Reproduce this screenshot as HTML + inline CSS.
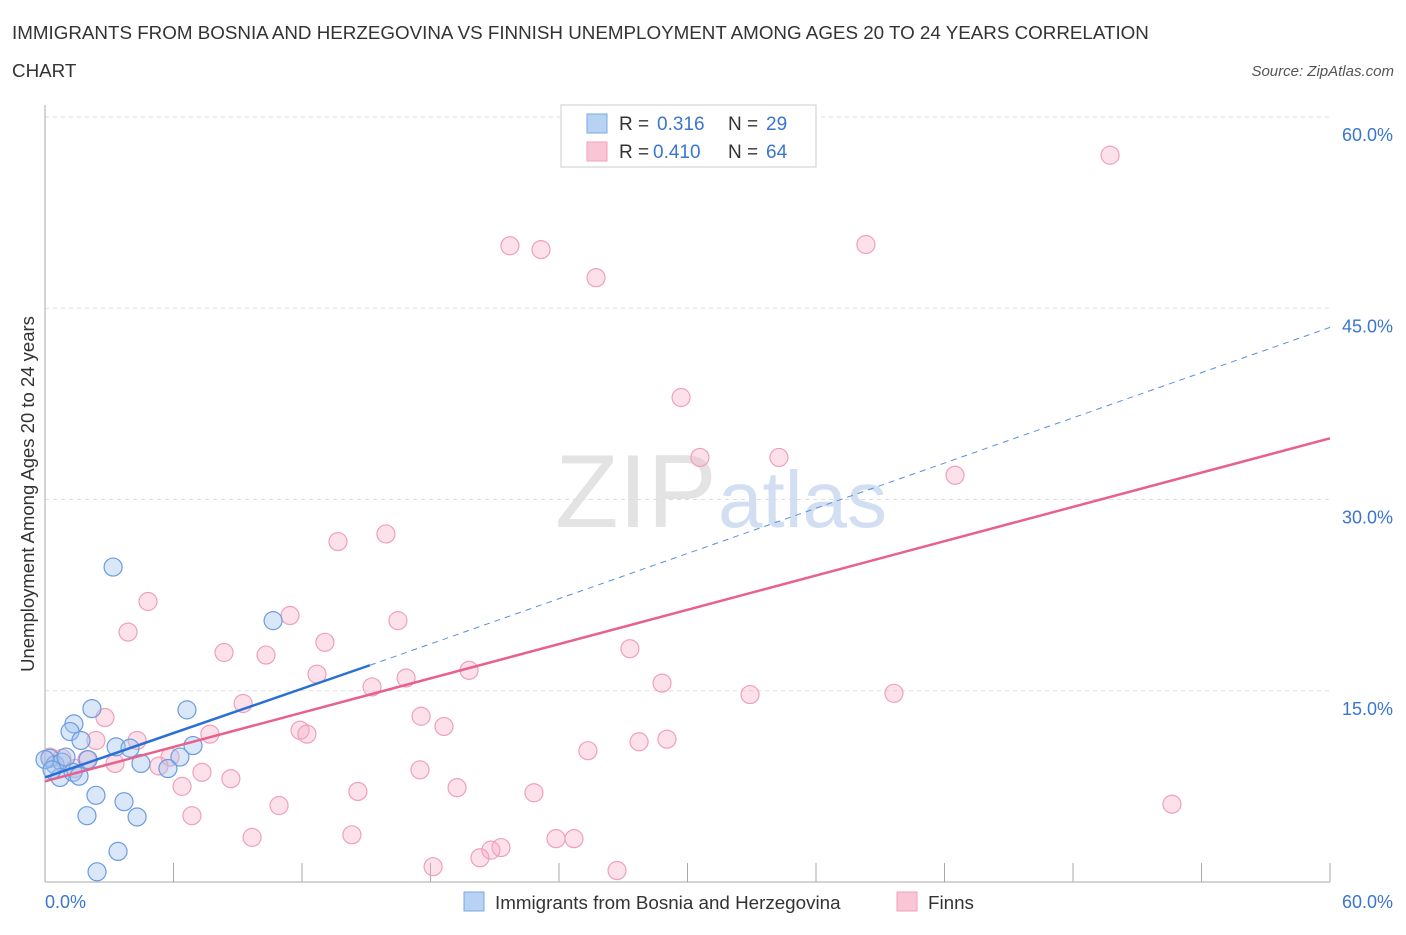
<!DOCTYPE html>
<html><head><meta charset="utf-8"><style>
body{margin:0;background:#fff;font-family:"Liberation Sans",sans-serif;}
svg text{font-family:"Liberation Sans",sans-serif;}
</style></head><body>
<svg id="chart" width="1406" height="930" xmlns="http://www.w3.org/2000/svg">
<text x="12" y="39" font-size="18.8" fill="#333">IMMIGRANTS FROM BOSNIA AND HERZEGOVINA VS FINNISH UNEMPLOYMENT AMONG AGES 20 TO 24 YEARS CORRELATION</text>
<text x="12" y="77" font-size="18.8" fill="#333">CHART</text>
<text x="1394" y="76" font-size="15" fill="#555" text-anchor="end" font-style="italic">Source: ZipAtlas.com</text>
<text x="555" y="527" font-size="104" fill="#ddd" font-family="Liberation Serif" opacity="0.8">ZIP</text>
<text x="718" y="527" font-size="80" fill="#c8d8f0" opacity="0.8">atlas</text>
<g id="grid"></g><g id="axes"></g><g id="pts"></g><g id="lines"></g>
<text transform="translate(34,494) rotate(-90)" font-size="18.5" fill="#333" text-anchor="middle">Unemployment Among Ages 20 to 24 years</text>
<text x="45" y="908" font-size="18" fill="#3a75d0">0.0%</text>
<text x="1393" y="908" font-size="18" fill="#3a75d0" text-anchor="end">60.0%</text>
<g>
<rect x="561" y="105" width="255" height="62" fill="#fff" stroke="#ccc"/>
<rect x="587" y="114" width="20" height="19" fill="#b8d2f4" stroke="#7aa8e0"/>
<rect x="587" y="142" width="20" height="19" fill="#f9c6d6" stroke="#f0a0b8"/>
<text x="619" y="130" font-size="19" fill="#333">R =</text>
<text x="657" y="130" font-size="19" fill="#3a75d0">0.316</text>
<text x="728" y="130" font-size="19" fill="#333">N =</text>
<text x="766" y="130" font-size="19" fill="#3a75d0">29</text>
<text x="619" y="158" font-size="19" fill="#333">R =</text>
<text x="653" y="158" font-size="19" fill="#3a75d0">0.410</text>
<text x="728" y="158" font-size="19" fill="#333">N =</text>
<text x="766" y="158" font-size="19" fill="#3a75d0">64</text>
</g>
<g>
<rect x="464" y="892" width="20" height="19" fill="#b8d2f4" stroke="#7aa8e0"/>
<text x="495" y="909" font-size="18.8" fill="#333">Immigrants from Bosnia and Herzegovina</text>
<rect x="897" y="892" width="20" height="19" fill="#f9c6d6" stroke="#f0a0b8"/>
<text x="928" y="909" font-size="18.8" fill="#333">Finns</text>
</g>
</svg>
<script>
const yTicks=[15,30,45,60];
const yTickLabels=["15.0%","30.0%","45.0%","60.0%"];
const xTicks=[0,6,12,18,24,30,36,42,48,54,60];
const blueX=[3.18,10.65,2.19,6.63,1.35,1.17,1.68,3.32,3.97,6.91,6.30,4.48,5.74,2.01,0.23,0.47,0.79,0.98,0.70,1.31,1.59,2.38,3.69,1.96,4.30,3.41,2.43,0,0.33];
const blueY=[24.7,20.5,13.6,13.5,12.4,11.8,11.1,10.6,10.5,10.7,9.8,9.3,8.9,9.6,9.7,9.2,9.4,9.8,8.2,8.6,8.3,6.8,6.3,5.2,5.1,2.4,0.8,9.6,8.8];
const pinkX=[49.73,21.71,23.16,25.73,38.33,29.70,30.58,34.27,42.49,13.68,15.92,4.81,3.88,11.44,16.48,13.07,8.36,10.32,27.31,12.70,19.80,16.86,15.27,28.81,32.92,39.64,9.25,17.56,2.80,11.91,12.23,18.63,7.70,2.38,4.30,27.74,29.04,25.35,5.84,0.79,1.96,3.27,5.32,7.33,17.51,8.68,6.40,14.61,19.24,22.83,10.93,6.86,52.62,14.33,9.67,23.86,24.70,21.29,20.82,20.31,18.12,26.71,0.23,1.40];
const pinkY=[57.0,49.9,49.6,47.4,50.0,38.0,33.3,33.3,31.9,26.7,27.3,22.0,19.6,20.9,20.5,18.8,18.0,17.8,18.3,16.3,16.6,16.0,15.3,15.6,14.7,14.8,14.0,13.0,12.9,11.9,11.6,12.2,11.6,11.1,11.1,11.0,11.2,10.3,9.8,9.7,9.6,9.3,9.1,8.6,8.8,8.1,7.5,7.1,7.4,7.0,6.0,5.2,6.1,3.7,3.5,3.4,3.4,2.7,2.5,1.9,1.2,0.9,9.8,8.9];
const blueTrend=[[0,8.2],[15.17,17.0]];
const blueTrendExt=[[15.17,17.0],[60,43.5]];
const pinkTrend=[[0,7.9],[60,34.8]];
const X=v=>45+v*1285/60, Y=v=>882-v*12.75;
const NS="http://www.w3.org/2000/svg";
function mk(tag,attrs,parent){const e=document.createElementNS(NS,tag);for(const k in attrs)e.setAttribute(k,attrs[k]);document.getElementById(parent).appendChild(e);return e;}
yTicks.forEach((t,i)=>{
 const g=mk('line',{x1:45,x2:1330,y1:Y(t),y2:Y(t),stroke:'#ddd','stroke-dasharray':'4,4'},'grid');
 
 
 const l=mk('text',{x:1393,y:Y(t)+24,'font-size':18,fill:'#3a75d0','text-anchor':'end'},'grid');
 l.textContent=yTickLabels[i];
 
 
});
let a=mk('line',{x1:45,x2:45,y1:105,y2:882,stroke:'#aaa'},'axes');


a=mk('line',{x1:45,x2:1330,y1:882,y2:882,stroke:'#aaa'},'axes');


xTicks.forEach(t=>{const e=mk('line',{x1:X(t),x2:X(t),y1:863,y2:882,stroke:'#aaa'},'axes');
 
 });
pinkX.forEach((x,i)=>{const c=mk('circle',{cx:X(x),cy:Y(pinkY[i]),r:9,fill:'rgba(245,170,195,0.35)',stroke:'#f0a0b8','stroke-width':1.2},'pts');
 
 });
blueX.forEach((x,i)=>{const c=mk('circle',{cx:X(x),cy:Y(blueY[i]),r:9,fill:'rgba(160,196,240,0.4)',stroke:'#6a9ce0','stroke-width':1.2},'pts');
 
 });
let l=mk('line',{x1:X(blueTrendExt[0][0]),y1:Y(blueTrendExt[0][1]),x2:X(blueTrendExt[1][0]),y2:Y(blueTrendExt[1][1]),stroke:'#5a8fdc','stroke-width':1,'stroke-dasharray':'6,5'},'lines');


l=mk('line',{x1:X(pinkTrend[0][0]),y1:Y(pinkTrend[0][1]),x2:X(pinkTrend[1][0]),y2:Y(pinkTrend[1][1]),stroke:'#e8608c','stroke-width':2.5},'lines');


l=mk('line',{x1:X(blueTrend[0][0]),y1:Y(blueTrend[0][1]),x2:X(blueTrend[1][0]),y2:Y(blueTrend[1][1]),stroke:'#2a6fd6','stroke-width':2.5},'lines');


</script>
</body></html>
